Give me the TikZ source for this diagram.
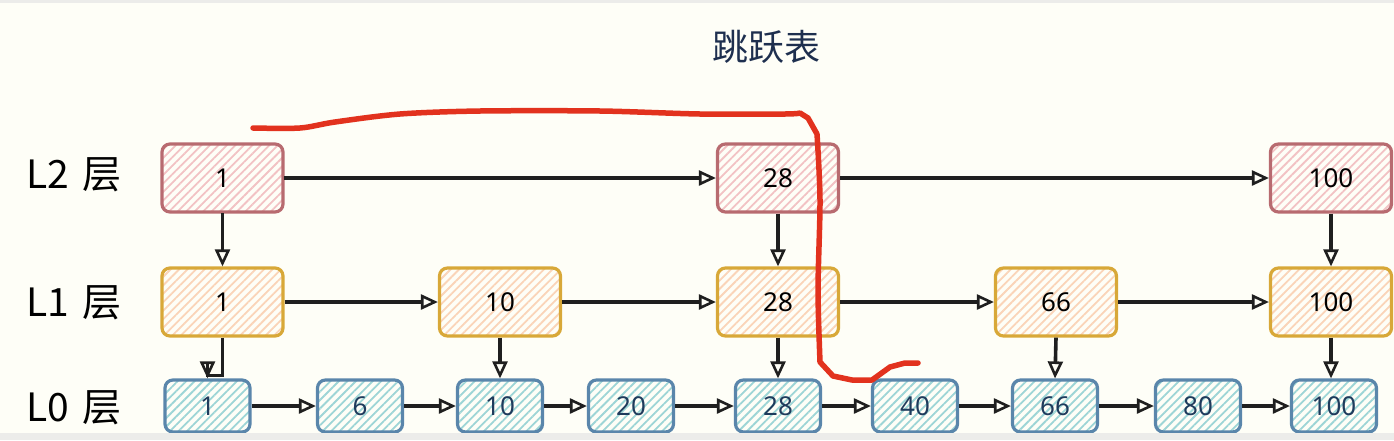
\documentclass[tikz,border=0pt]{standalone}
\usepackage{fontspec}
\setmainfont{Noto Sans CJK SC}
\newfontfamily\numfont{Noto Sans}
\usetikzlibrary{arrows.meta,patterns.meta}
\definecolor{bgc}{HTML}{FEFEF7}
\definecolor{band}{HTML}{ECECEA}
\definecolor{ctitle}{HTML}{1E2F4F}
\definecolor{rs}{HTML}{B86B70}
\definecolor{rf}{HTML}{F2C2C4}
\definecolor{ys}{HTML}{D8A838}
\definecolor{yf}{HTML}{FAD4B8}
\definecolor{bs}{HTML}{5A86AB}
\definecolor{bf}{HTML}{9DD5D6}
\definecolor{ntext}{HTML}{1F3B5C}
\definecolor{redline}{HTML}{E2321E}
\tikzset{
  box/.style={draw, line width=3.2pt, rounded corners=8pt, inner sep=0pt,
    font=\numfont\fontsize{26}{26}\selectfont},
  bigbox/.style={box, minimum width=121pt, minimum height=68pt},
  rbox/.style={bigbox, draw=rs, pattern={Lines[angle=45,distance=6pt,line width=1.8pt]}, pattern color=rf},
  ybox/.style={bigbox, draw=ys, pattern={Lines[angle=45,distance=6pt,line width=1.8pt]}, pattern color=yf},
  bbox/.style={box, minimum width=85pt, minimum height=52pt, draw=bs, text=ntext,
    pattern={Lines[angle=45,distance=6pt,line width=1.8pt]}, pattern color=bf},
  arr/.style={-{Triangle[open,length=17pt,width=15pt,line width=2.6pt]}, line width=3.6pt, draw=black!88},
  lvl/.style={font=\fontsize{39}{39}\selectfont, anchor=west, inner sep=0pt},
}
\begin{document}
\begin{tikzpicture}[x=1pt,y=-1pt]
\fill[bgc] (0,0) rectangle (1394,440);
\useasboundingbox (0,0) rectangle (1394,440);
\fill[band] (0,0) rectangle (1394,3);

\node[font=\fontsize{36}{36}\selectfont, text=ctitle] (title) at (766,47) {跳跃表};

\node[lvl] (lab2) at (26,175) {L2\,\,层};
\node[lvl] (lab1) at (26,303) {L1\,\,层};
\node[lvl] (lab0) at (26,408) {L0\,\,层};

% L2
\node[rbox] (a1) at (222.5,178) {1};
\node[rbox] (a28) at (778,178) {28};
\node[rbox] (a100) at (1331,178) {100};
% L1
\node[ybox] (b1) at (222.5,302) {1};
\node[ybox] (b10) at (500,302) {10};
\node[ybox] (b28) at (778,302) {28};
\node[ybox] (b66) at (1056,302) {66};
\node[ybox] (b100) at (1331,302) {100};
% L0
\node[bbox] (c1) at (207.5,406) {1};
\node[bbox] (c6) at (360,406) {6};
\node[bbox] (c10) at (500,406) {10};
\node[bbox] (c20) at (631,406) {20};
\node[bbox] (c28) at (778,406) {28};
\node[bbox] (c40) at (915,406) {40};
\node[bbox] (c66) at (1055,406) {66};
\node[bbox] (c80) at (1198,406) {80};
\node[bbox] (c100) at (1334,406) {100};

% horizontal arrows
\draw[arr] (a1) -- (a28);
\draw[arr] (a28) -- (a100);
\draw[arr] (b1) -- (b10);
\draw[arr] (b10) -- (b28);
\draw[arr] (b28) -- (b66);
\draw[arr] (b66) -- (b100);
\foreach \p/\q in {c1/c6,c6/c10,c10/c20,c20/c28,c28/c40,c40/c66,c66/c80,c80/c100}
  \draw[arr] (\p) -- (\q);

% vertical arrows
\draw[arr] (a1) -- (b1);
\draw[arr] (a28) -- (b28);
\draw[arr] (a100) -- (b100);
\coordinate (k1) at ([yshift=-38pt]b1.south);
\draw[arr] (b1.south) -- (k1) -| (c1.north);
\draw[arr] (b10) -- (c10);
\draw[arr] (b28) -- (c28);
\draw[arr] (b66.south) -- (c66.north);
\draw[arr] (b100.south) -- (b100.south |- c100.north);

% red path
\draw[redline, line width=5.5pt, line cap=round, line join=round]
  plot[smooth, tension=0.5] coordinates {(253,128) (300,128) (335,122) (400,114) (480,111) (600,111) (700,114) (785,114) (800,113)}
  -- (808,118) -- (817,134)
  plot[smooth, tension=0.5] coordinates {(817,134) (820,200) (818,290) (820,362)}
  -- (833,376) -- (852,380) -- (872,380) -- (890,367) -- (905,363) -- (918,363);

\fill[band] (0,433) rectangle (1394,440);
\end{tikzpicture}
\end{document}
